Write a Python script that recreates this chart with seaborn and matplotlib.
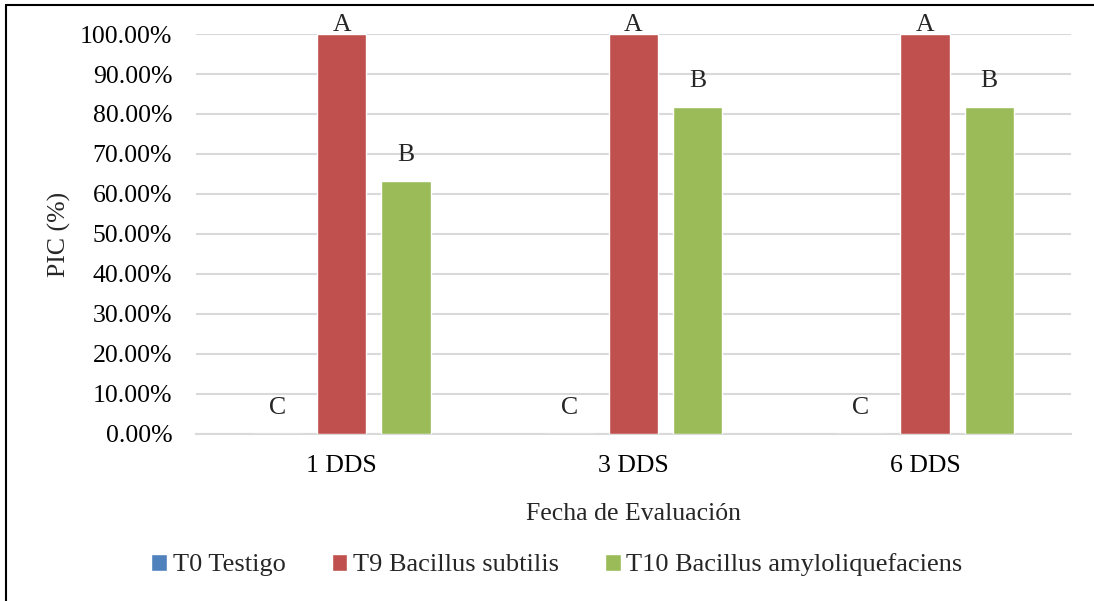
import matplotlib
matplotlib.use("Agg")
import matplotlib.pyplot as plt
from matplotlib.lines import Line2D
from matplotlib.ticker import PercentFormatter
import seaborn as sns
import pandas as pd

categories = ["1 DDS", "3 DDS", "6 DDS"]
series_names = ["T0 Testigo", "T9 Bacillus subtilis", "T10 Bacillus amyloliquefaciens"]
t0_values = [0.0, 0.0, 0.0]
t9_values = [1.0, 1.0, 1.0]
t10_values = [0.6325, 0.8175, 0.8175]
t0_letters = ["C", "C", "C"]
t9_letters = ["A", "A", "A"]
t10_letters = ["B", "B", "B"]
colors = ["#4F81BD", "#C0504D", "#9BBB59"]

rows = []
for name, vals in zip(series_names, [t0_values, t9_values, t10_values]):
    for c, v in zip(categories, vals):
        rows.append({"Fecha": c, "PIC": v, "Tratamiento": name})
df = pd.DataFrame(rows)

sns.set_theme(style="white")
plt.rcParams["font.family"] = ["Liberation Serif", "DejaVu Serif"]

FS = 18.5

fig = plt.figure(figsize=(10.94, 6.01), dpi=100)
ax = fig.add_axes([0.179, 0.278, 0.800, 0.6654])

sns.barplot(data=df, x="Fecha", y="PIC", hue="Tratamiento", hue_order=series_names,
            order=categories, palette=colors, width=0.66, gap=0.23,
            saturation=1, ax=ax, legend=True, zorder=3)

ax.set_ylim(0, 1.0)
ax.set_yticks([i / 10 for i in range(11)])
ax.yaxis.set_major_formatter(PercentFormatter(xmax=1.0, decimals=2))
ax.grid(axis="y", color="#D9D9D9", linewidth=1.5, zorder=0)
ax.set_axisbelow(True)
for s in ["left", "right", "top"]:
    ax.spines[s].set_visible(False)
ax.spines["bottom"].set_color("#D9D9D9")
ax.spines["bottom"].set_linewidth(1.5)
ax.tick_params(axis="both", length=0, labelsize=FS, colors="black")
ax.tick_params(axis="y", pad=17)
ax.tick_params(axis="x", pad=15)
ax.set_xlabel("Fecha de Evaluación", fontsize=FS, labelpad=19)
ax.set_ylabel("PIC (%)", fontsize=FS, labelpad=6.5)

letters = [t0_letters, t9_letters, t10_letters]
for cont, labs in zip(ax.containers, letters):
    for bar, lab in zip(cont, labs):
        h = bar.get_height()
        y = min(h + 0.065, 1.0225)
        ax.text(bar.get_x() + bar.get_width() / 2, y, lab, ha="center", va="center",
                fontsize=FS, clip_on=False)

handles, labels = ax.get_legend_handles_labels()
ax.get_legend().remove()
fig.legend(handles, labels, loc="center", bbox_to_anchor=(0.509, 1 - 565 / 601), ncol=3,
           frameon=False, fontsize=19, handlelength=0.6, handleheight=0.6,
           handletextpad=0.2, columnspacing=1.75)

fig.add_artist(Line2D([6 / 1094, 6 / 1094], [0, 1 - 5 / 601], color="black", linewidth=1.5,
                      transform=fig.transFigure))
fig.add_artist(Line2D([6 / 1094, 1], [1 - 5 / 601, 1 - 5 / 601], color="black", linewidth=1.5,
                      transform=fig.transFigure))

fig.savefig("out.png", dpi=100)
